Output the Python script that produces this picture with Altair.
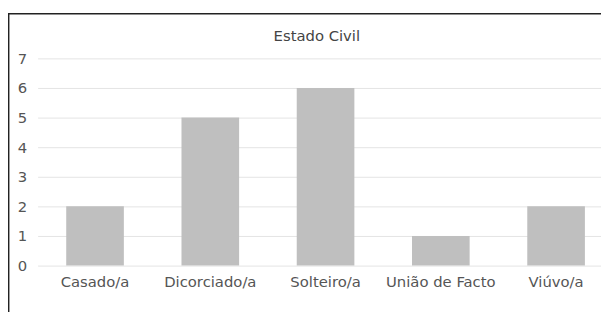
import altair as alt
import pandas as pd

title_text = "Estado Civil"
categories = ["Casado/a", "Dicorciado/a", "Solteiro/a", "União de Facto", "Viúvo/a"]
counts = [2, 5, 6, 1, 2]
y_ticks = [0, 1, 2, 3, 4, 5, 6, 7]

df = pd.DataFrame({"estado": categories, "n": counts})

FONT = "DejaVu Sans"
W, H = 571, 210

bars = alt.Chart(df).mark_bar(color="#bfbfbf").encode(
    x=alt.X(
        "estado:N",
        sort=categories,
        title=None,
        scale=alt.Scale(paddingInner=0.5, paddingOuter=0.194, align=0.64, round=False),
        axis=alt.Axis(
            labelAngle=0, ticks=False, domain=False, grid=False,
            labelFont=FONT, labelFontSize=15, labelColor="#555555",
            labelPadding=9,
        ),
    ),
    y=alt.Y(
        "n:Q",
        title=None,
        scale=alt.Scale(domain=[0, 7], nice=False),
        axis=alt.Axis(
            values=y_ticks, ticks=False, domain=False, grid=True,
            gridColor="#e4e4e4", labelFont=FONT, labelFontSize=15,
            labelColor="#555555", labelPadding=11,
        ),
    ),
)

frame = alt.Chart(alt.Data(values=[{"k": 1}])).mark_rect(
    fill=None, stroke="#222222", strokeWidth=1.5, clip=False
).encode(
    x=alt.value(-29.3),
    x2=alt.value(W + 60),
    y=alt.value(-45.3),
    y2=alt.value(H + 120),
)

title = alt.Chart(alt.Data(values=[{"t": title_text}])).mark_text(
    font=FONT, fontSize=15, color="#444444", align="center",
    baseline="alphabetic", clip=False,
).encode(
    text="t:N",
    x=alt.value(W / 2 - 2.5),
    y=alt.value(-18),
)

chart = alt.layer(bars, frame, title).properties(
    width=W,
    height=H,
    autosize=alt.AutoSizeParams(type="none"),
    padding={"left": 30, "top": 49, "right": 0, "bottom": 45},
).configure_view(stroke=None)

chart.save("out.html", embed_options={"renderer": "svg", "actions": False})
